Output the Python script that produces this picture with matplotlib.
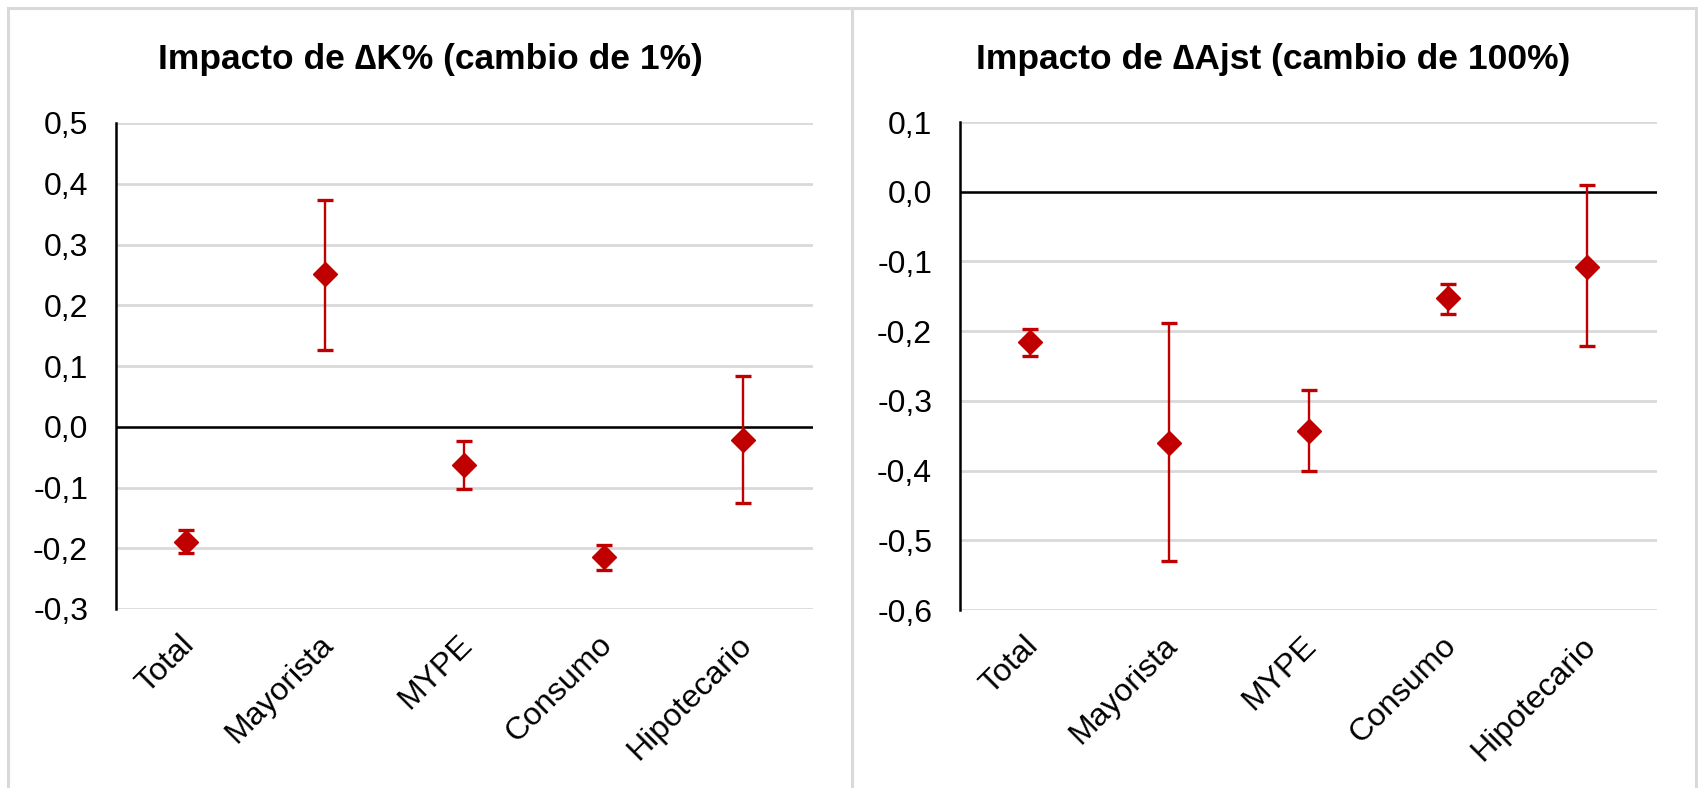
import matplotlib
matplotlib.use("Agg")
import matplotlib.pyplot as plt
from matplotlib.lines import Line2D
from matplotlib.ticker import FixedLocator, FuncFormatter
import matplotlib.transforms as mtransforms

plt.rcParams['font.family'] = ['Liberation Sans', 'DejaVu Sans']

# Segments de crédito
categories = ['Total', 'Mayorista', 'MYPE', 'Consumo', 'Hipotecario']

# Impacto de ΔK% (cambio de 1%): estimado e intervalo
k_est = [-0.190, 0.251, -0.063, -0.215, -0.021]
k_low = [-0.207, 0.126, -0.103, -0.235, -0.126]
k_high = [-0.170, 0.374, -0.023, -0.194, 0.083]
k_ticks = [0.5, 0.4, 0.3, 0.2, 0.1, 0.0, -0.1, -0.2, -0.3]

# Impacto de ΔAjst (cambio de 100%): estimado e intervalo
a_est = [-0.215, -0.360, -0.343, -0.153, -0.108]
a_low = [-0.235, -0.530, -0.400, -0.175, -0.222]
a_high = [-0.197, -0.188, -0.285, -0.132, 0.009]
a_ticks = [0.1, 0.0, -0.1, -0.2, -0.3, -0.4, -0.5, -0.6]

titles = ['Impacto de ∆K% (cambio de 1%)', 'Impacto de ∆Ajst (cambio de 100%)']

RED = '#C00000'
GRID = '#D9D9D9'
FS = 23
TITLE_FS = 25.5

W, H = 1698, 788
fig = plt.figure(figsize=(W / 100, H / 100), dpi=100)
fig.patch.set_facecolor('white')


def px(x0, y0, x1, y1):
    """Axes rectangle from pixel box (top-left origin)."""
    return [x0 / W, 1 - y1 / H, (x1 - x0) / W, (y1 - y0) / H]


def comma(v, _pos=None):
    s = f"{v:.1f}".replace('.', ',')
    return '0,0' if s == '-0,0' else s


def draw(ax, est, low, high, ticks):
    x = list(range(len(categories)))
    yerr = [[e - l for e, l in zip(est, low)], [h - e for e, h in zip(est, high)]]
    ax.errorbar(x, est, yerr=yerr, fmt='D', color=RED, ecolor=RED,
                markersize=12.5, elinewidth=1.7, capsize=6, capthick=2.4,
                zorder=5, clip_on=False)
    ax.set_xlim(-0.5, len(categories) - 0.5)
    ax.set_ylim(min(ticks), max(ticks))
    ax.yaxis.set_major_locator(FixedLocator(ticks))
    ax.yaxis.set_major_formatter(FuncFormatter(comma))
    ax.grid(axis='y', color=GRID, linewidth=2.0, zorder=0)
    ax.set_axisbelow(True)
    ax.axhline(0, color='black', linewidth=1.8, zorder=2)
    for side in ('top', 'right', 'bottom'):
        ax.spines[side].set_visible(False)
    ax.spines['left'].set_color('black')
    ax.spines['left'].set_linewidth(1.8)
    ax.spines['left'].set_zorder(3)
    ax.tick_params(axis='y', length=0, pad=20, labelsize=FS, labelcolor='black')
    ax.tick_params(axis='x', length=0, pad=15, labelsize=FS, labelcolor='black')
    ax.set_xticks(x)
    ax.set_xticklabels(categories, rotation=45, ha='right', va='top',
                       rotation_mode='anchor')
    offset = mtransforms.ScaledTranslation(-7 / 100, 0, fig.dpi_scale_trans)
    for lab in ax.get_xticklabels():
        lab.set_transform(lab.get_transform() + offset)


ax1 = fig.add_axes(px(116, 123, 813, 609))
draw(ax1, k_est, k_low, k_high, k_ticks)

ax2 = fig.add_axes(px(960, 122, 1657, 610))
draw(ax2, a_est, a_low, a_high, a_ticks)

# Panel titles, centred on each framed panel
fig.text(430 / W, 1 - 60 / H, titles[0], ha='center', va='center',
         fontsize=TITLE_FS, fontweight='bold', color='black')
fig.text(1273 / W, 1 - 60 / H, titles[1], ha='center', va='center',
         fontsize=TITLE_FS, fontweight='bold', color='black')

# Light frame around the two panels
frame = dict(color=GRID, linewidth=2.2, transform=fig.transFigure)
fig.add_artist(Line2D([8 / W, 1696 / W], [1 - 8 / H, 1 - 8 / H], **frame))
fig.add_artist(Line2D([8 / W, 8 / W], [0, 1 - 8 / H], **frame))
fig.add_artist(Line2D([852 / W, 852 / W], [0, 1 - 8 / H], **frame))
fig.add_artist(Line2D([1696 / W, 1696 / W], [0, 1 - 8 / H], **frame))

fig.savefig('out.png', dpi=100, facecolor='white')
